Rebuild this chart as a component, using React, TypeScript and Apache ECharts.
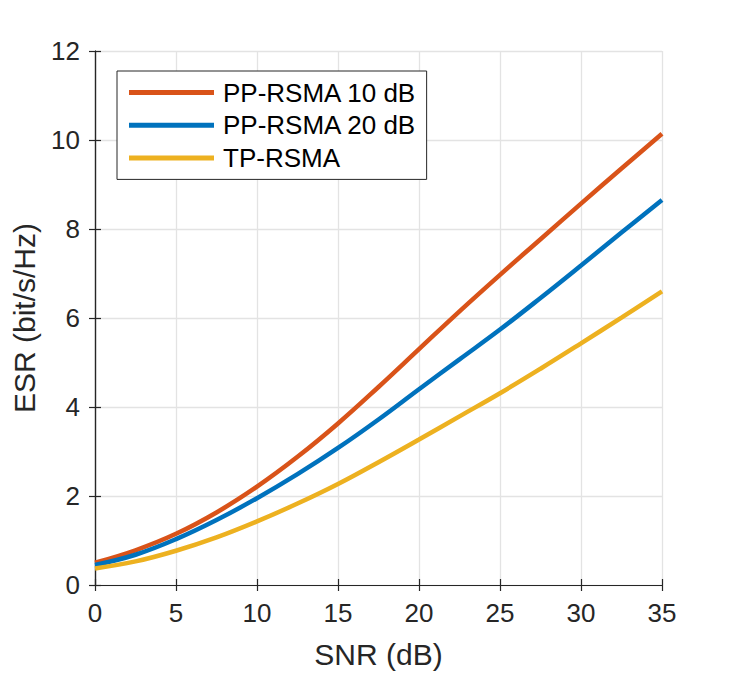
import React, { useEffect, useRef } from "react";
import * as echarts from "echarts";

const snr = [0, 2.5, 5, 7.5, 10, 12.5, 15, 17.5, 20, 22.5, 25, 27.5, 30, 32.5, 35];
const pp10 = [0.5, 0.78, 1.15, 1.63, 2.21, 2.88, 3.63, 4.45, 5.3, 6.15, 6.97, 7.77, 8.57, 9.36, 10.14];
const pp20 = [0.45, 0.68, 1.03, 1.46, 1.95, 2.49, 3.08, 3.72, 4.4, 5.07, 5.74, 6.45, 7.18, 7.92, 8.65];
const tp = [0.37, 0.53, 0.77, 1.07, 1.43, 1.83, 2.27, 2.76, 3.27, 3.79, 4.31, 4.86, 5.43, 6.01, 6.6];
const seriesNames = ["PP-RSMA 10 dB", "PP-RSMA 20 dB", "TP-RSMA"];
const colors = ["#D95319", "#0072BD", "#EDB120"];

const FONT = "'Liberation Sans', Arial, Helvetica, sans-serif";
const AXIS = "#262626";

export default function App() {
  const ref = useRef<HTMLDivElement>(null);
  useEffect(() => {
    if (!ref.current) return;
    const chart = echarts.init(ref.current, undefined, { renderer: "svg" });
    const mk = (name: string, data: number[], color: string) => ({
      name,
      type: "line",
      data: snr.map((x, i) => [x, data[i]]),
      smooth: 0.4,
      showSymbol: false,
      symbol: "none",
      lineStyle: { width: 4.5, color },
      itemStyle: { color },
    });
    const tick = { show: true, inside: true, length: 6, lineStyle: { color: AXIS, width: 1.2 } };
    const line = { show: true, lineStyle: { color: AXIS, width: 1.2 } };
    const split = { show: true, lineStyle: { color: "#e3e3e3", width: 1.3 } };
    chart.setOption({
      animation: false,
      textStyle: { fontFamily: FONT },
      grid: { left: 95, top: 51, right: 69, bottom: 87, containLabel: false },
      legend: {
        orient: "vertical",
        left: 117,
        top: 71,
        padding: [8.5, 10, 8.5, 12],
        itemGap: 6.7,
        itemWidth: 85,
        itemHeight: 5,
        icon: "rect",
        backgroundColor: "#fff",
        borderColor: AXIS,
        borderWidth: 1,
        borderRadius: 0,
        textStyle: { fontSize: 26, color: "#000", fontFamily: FONT, lineHeight: 26, padding: [0, 0, 0, 4] },
        data: seriesNames,
      },
      xAxis: [
        {
          type: "value",
          min: 0,
          max: 35,
          interval: 5,
          name: "SNR (dB)",
          nameLocation: "middle",
          nameGap: 54,
          nameTextStyle: { fontSize: 30, color: AXIS, fontFamily: FONT },
          axisLine: line,
          axisTick: tick,
          axisLabel: { fontSize: 26, color: AXIS, margin: 15, fontFamily: FONT },
          splitLine: split,
        },
        {
          type: "value",
          position: "top",
          min: 0,
          max: 35,
          interval: 5,
          axisLine: line,
          axisTick: tick,
          axisLabel: { show: false },
          splitLine: { show: false },
        },
      ],
      yAxis: [
        {
          type: "value",
          min: 0,
          max: 12,
          interval: 2,
          name: "ESR (bit/s/Hz)",
          nameLocation: "middle",
          nameGap: 56,
          nameTextStyle: { fontSize: 30, color: AXIS, fontFamily: FONT },
          axisLine: line,
          axisTick: tick,
          axisLabel: { fontSize: 26, color: AXIS, margin: 15, fontFamily: FONT },
          splitLine: split,
        },
        {
          type: "value",
          position: "right",
          min: 0,
          max: 12,
          interval: 2,
          axisLine: line,
          axisTick: tick,
          axisLabel: { show: false },
          splitLine: { show: false },
        },
      ],
      series: [mk(seriesNames[0], pp10, colors[0]), mk(seriesNames[1], pp20, colors[1]), mk(seriesNames[2], tp, colors[2])],
    });
    return () => chart.dispose();
  }, []);
  return <div ref={ref} style={{ position: "absolute", left: 0, top: 0, width: 731, height: 674 }} />;
}
